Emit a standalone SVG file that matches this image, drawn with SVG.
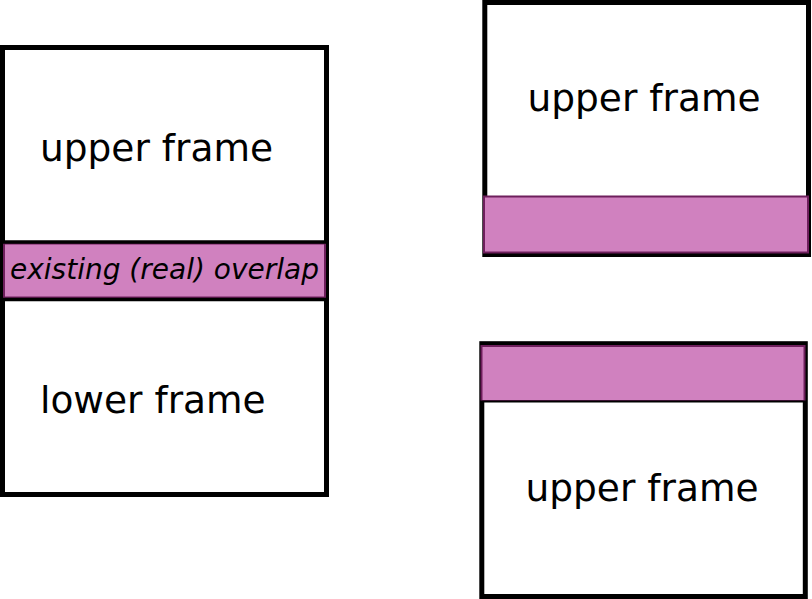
<svg xmlns="http://www.w3.org/2000/svg" width="812" height="599" viewBox="0 0 812 599">
<style>
.frame{fill:#fff;stroke:#000;stroke-width:5}
.band{fill:#d081bf;stroke:#6e1f5c;stroke-width:2}
.sep{stroke:#000;stroke-width:3.5}
.lbl{font-family:"DejaVu Sans",sans-serif;font-size:37.5px;fill:#000}
.ov{font-family:"DejaVu Sans",sans-serif;font-size:28px;font-style:italic;fill:#000}
</style>
<rect width="812" height="599" fill="#fff"/>
<g id="left-frames">
<rect class="frame" x="2.5" y="47.5" width="324" height="447"/>
<rect class="band" x="4" y="243.5" width="321" height="54"/>
<line class="sep" x1="1" y1="242" x2="328" y2="242"/>
<line class="sep" x1="1" y1="299.5" x2="328" y2="299.5"/>
<text class="lbl" x="40" y="161">upper frame</text>
<text class="lbl" x="40" y="413">lower frame</text>
<text class="ov" x="164.5" y="279" text-anchor="middle">existing (real) overlap</text>
</g>
<g id="right-upper-frame">
<rect class="frame" x="484.8" y="2.5" width="323.7" height="252"/>
<rect class="band" x="484" y="196.5" width="324" height="56"/>
<text class="lbl" x="644" y="111" text-anchor="middle">upper frame</text>
</g>
<g id="right-lower-frame">
<rect class="frame" x="481.8" y="343.7" width="323.5" height="252.8"/>
<rect class="band" x="481.5" y="346" width="323" height="55"/>
<line class="sep" x1="480" y1="401.5" x2="807" y2="401.5" style="stroke-width:2"/>
<text class="lbl" x="642" y="501" text-anchor="middle">upper frame</text>
</g>
<g id="connectors"/>
</svg>
